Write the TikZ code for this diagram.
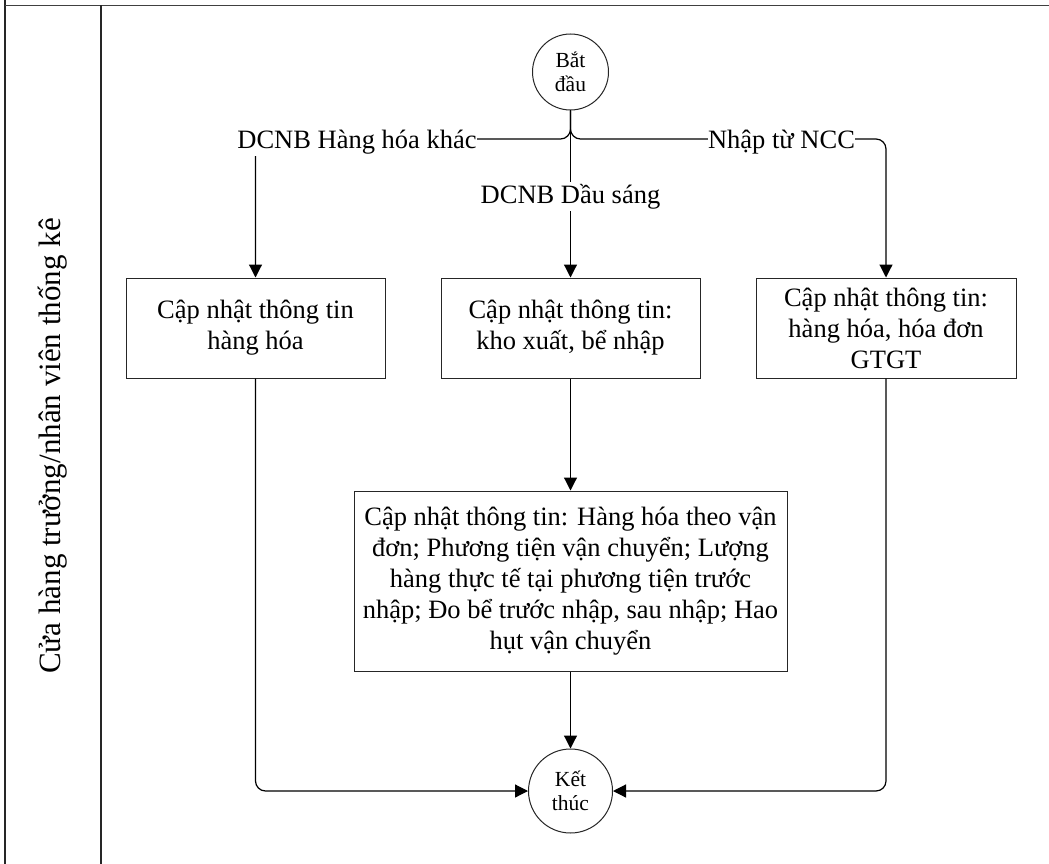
\documentclass[tikz,border=0pt]{standalone}
\usepackage{fontspec}
\setmainfont{Liberation Serif}
\usetikzlibrary{arrows.meta}
\begin{document}
\begin{tikzpicture}[x=1pt,y=-1pt,
  boxstyle/.style={draw=black!85, line width=1pt, fill=white, inner sep=0pt,
    align=center, font=\fontsize{26.5}{31}\selectfont},
  termstyle/.style={draw=black!85, line width=1pt, circle, fill=white, inner sep=0pt,
    align=center, font=\fontsize{21.5}{24}\selectfont},
  conn/.style={draw=black, line width=1.2pt, -{Triangle[length=13pt,width=13pt]}},
  lbl/.style={fill=white, inner xsep=0pt, inner ysep=2pt, anchor=base,
    font=\fontsize{26.5}{31}\selectfont},
  poolline/.style={line width=1.6pt, draw=black!85}]
\useasboundingbox (0,0) rectangle (1049,864);
% pool and lane
\draw[poolline] (5,0) -- (5,864);
\draw[poolline, draw=black!75, line width=1.9pt] (5,5.5) -- (1049,5.5);
\draw[poolline] (101,5.5) -- (101,864);
\node[rotate=90, font=\fontsize{31}{36}\selectfont] (lane) at (53,446) {Cửa hàng trưởng/nhân viên thống kê};
% nodes
\node[termstyle, minimum size=76pt] (start) at (570.5,72) {Bắt\\đầu};
\node[termstyle, minimum size=84pt] (end) at (570.5,791) {Kết\\thúc};
\node[boxstyle, minimum width=259pt, minimum height=100pt] (b1) at (255.5,328) {Cập nhật thông tin\\hàng hóa};
\node[boxstyle, minimum width=259pt, minimum height=100pt] (b2) at (570.5,328) {Cập nhật thông tin:\\kho xuất, bể nhập};
\node[boxstyle, minimum width=260pt, minimum height=100pt] (b3) at (886,328) {Cập nhật thông tin:\\hàng hóa, hóa đơn\\GTGT};
\node[boxstyle, minimum width=433pt, minimum height=180pt] (b4) at (570.5,581) {Cập nhật thông tin: Hàng hóa theo vận\\đơn; Phương tiện vận chuyển; Lượng\\hàng thực tế tại phương tiện trước\\nhập; Đo bể trước nhập, sau nhập; Hao\\hụt vận chuyển};
\coordinate (j) at (570.5,139);
% connectors
\draw[conn, rounded corners=10pt] (start.south) -- (j) -| (b1.north);
\draw[conn, rounded corners=10pt] (start.south) -- (j) -| (b3.north);
\draw[conn] (start.south) -- (b2.north);
\draw[conn] (b2.south) -- (b4.north);
\draw[conn] (b4.south) -- (end.north);
\draw[conn, rounded corners=10pt] (b1.south) |- (end.west);
\draw[conn, rounded corners=10pt] (b3.south) |- (end.east);
% edge labels
\node[lbl] (l1) at (357,148) {DCNB Hàng hóa khác};
\node[lbl] (l2) at (570.5,203) {DCNB Dầu sáng};
\node[lbl] (l3) at (781.5,148) {Nhập từ NCC};
\end{tikzpicture}
\end{document}
